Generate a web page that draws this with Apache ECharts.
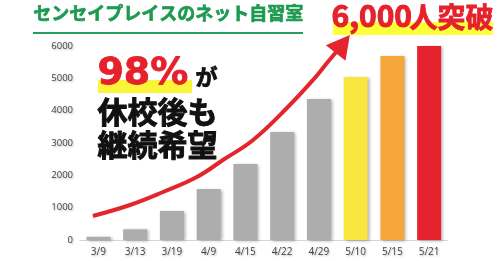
<!DOCTYPE html>
<html><head><meta charset="utf-8">
<script src="https://cdn.jsdelivr.net/npm/echarts@6/dist/echarts.min.js"></script>
<style>html,body{margin:0;padding:0;background:#fff}#c{width:500px;height:261px}</style>
</head><body><div id="c"></div>
<script>
const categories = ['3/9','3/13','3/19','4/9','4/15','4/22','4/29','5/10','5/15','5/21'];
const users = [100, 330, 900, 1580, 2350, 3340, 4360, 5040, 5690, 6060];
const barColors = ['#adadad','#adadad','#adadad','#adadad','#adadad','#adadad','#adadad','#f8e53e','#f6a73c','#e5232e'];
const yTicks = [0, 1000, 2000, 3000, 4000, 5000, 6000];
// decorative trend arrow: [category position, value]
const trendArrow = [[-0.15,742],[0.86,1082],[1.76,1485],[2.68,1948],[3.39,2474],[4.21,3093],[5.13,4082],[5.84,4948],[6.22,5474],[6.47,5814],[6.65,6062]];
const titleText = 'センセイプレイスのネット自習室';
const headline = ['6,000', '人突破'];
const callout = ['98%', 'が', '休校後も', '継続希望'];

const chart = echarts.init(document.getElementById('c'));
const jp = '"Noto Sans CJK JP", "Noto Sans", sans-serif';
const arrowData = trendArrow.map((p, i) => i === trendArrow.length - 1
  ? {value: p, symbol: 'triangle', symbolSize: [25, 23], symbolRotate: -38, itemStyle: {color: '#e3262d'}}
  : {value: p});
const labelStyle = {color: '#444', fontFamily: '"Open Sans", sans-serif', margin: 7,
  textShadowColor: 'rgba(0,0,0,0.3)', textShadowBlur: 2, textShadowOffsetX: 1, textShadowOffsetY: 1};
chart.setOption({
  backgroundColor: '#ffffff',
  animation: false,
  grid: {left: 80, right: 52.5, top: 46, bottom: 21},
  xAxis: [{
    type: 'category', data: categories,
    axisLine: {lineStyle: {color: '#d6d6d6', width: 1}},
    axisTick: {show: false},
    axisLabel: Object.assign({fontSize: 10}, labelStyle)
  }, {
    type: 'value', min: -0.5, max: 9.5, show: false
  }],
  yAxis: {
    type: 'value', min: yTicks[0], max: yTicks[yTicks.length - 1], interval: 1000,
    splitLine: {show: false}, axisLine: {show: false}, axisTick: {show: false},
    axisLabel: Object.assign({fontSize: 9.5, formatter: v => String(v)}, labelStyle)
  },
  series: [{
    type: 'bar', barWidth: 24,
    data: users.map((v, i) => ({value: v, itemStyle: {color: barColors[i]}})),
    itemStyle: {shadowColor: 'rgba(0,0,0,0.3)', shadowBlur: 3, shadowOffsetX: 2, shadowOffsetY: 1}
  }, {
    type: 'line', xAxisIndex: 1, smooth: 0.4, clip: false, symbol: 'none',
    lineStyle: {color: '#e3262d', width: 4},
    data: arrowData, z: 5
  }],
  graphic: [
    {type: 'text', left: 33, top: 4, style: {text: titleText, font: 'bold 18px ' + jp, fill: '#1d9a52', stroke: '#1d9a52', lineWidth: 0.7}},
    {type: 'rect', shape: {x: 33, y: 32, width: 270, height: 2}, style: {fill: '#2a9d5c'}},
    {type: 'rect', shape: {x: 333, y: 22, width: 160, height: 13}, style: {fill: '#ffff3a'}},
    {type: 'text', left: 331, top: 0, style: {text: headline[0], font: 'bold 30px ' + jp, fill: '#e5212b', stroke: '#e5212b', lineWidth: 1}},
    {type: 'text', left: 409, top: 3, style: {text: headline[1], font: 'bold 28px ' + jp, fill: '#e5212b', stroke: '#e5212b', lineWidth: 0.8}},
    {type: 'rect', shape: {x: 98, y: 80, width: 94, height: 13}, style: {fill: '#fbf53a'}},
    {type: 'text', left: 97, top: 55, style: {text: callout[0], font: 'bold 38px "DejaVu Sans", sans-serif', fill: '#e5212b', stroke: '#e5212b', lineWidth: 0.8}},
    {type: 'text', left: 195, top: 65, style: {text: callout[1], font: 'bold 22px ' + jp, fill: '#111', stroke: '#111', lineWidth: 0.8}},
    {type: 'text', left: 97, top: 96, style: {text: callout[2], font: 'bold 30px ' + jp, fill: '#111', stroke: '#111', lineWidth: 1}},
    {type: 'text', left: 97, top: 129, style: {text: callout[3], font: 'bold 30px ' + jp, fill: '#111', stroke: '#111', lineWidth: 1}}
  ]
});
</script></body></html>
